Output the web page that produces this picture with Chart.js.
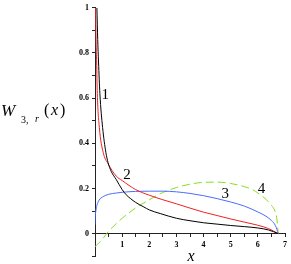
<!DOCTYPE html>
<html>
<head>
<meta charset="utf-8">
<script src="https://cdn.jsdelivr.net/npm/chart.js@4/dist/chart.umd.min.js"></script>
<style>
  html, body { margin: 0; padding: 0; background: #fff; }
  #wrap { width: 291px; height: 264px; position: relative; }
</style>
</head>
<body>
<div id="wrap"><canvas id="c"></canvas></div>
<script>
/* W_{3,r}(x) for r = 1..4 */
const x1 = [0.07, 0.1, 0.13, 0.18, 0.28, 0.4, 0.48, 0.6, 0.78, 1.0, 1.15, 1.3, 1.5, 1.8, 2.0, 2.4, 3.0, 3.5, 4.0, 4.5, 5.0, 5.5, 6.0, 6.4, 6.75];
const y1 = [1.0, 0.86, 0.76, 0.62, 0.47, 0.36, 0.315, 0.275, 0.24, 0.195, 0.172, 0.156, 0.138, 0.118, 0.105, 0.089, 0.068, 0.057, 0.048, 0.042, 0.036, 0.031, 0.025, 0.016, 0.0];

const x2 = [0.02, 0.04, 0.06, 0.085, 0.16, 0.3, 0.48, 0.78, 1.0, 1.5, 2.0, 2.5, 3.0, 3.5, 4.0, 4.5, 5.0, 5.5, 6.0, 6.4, 6.75];
const y2 = [1.0, 0.85, 0.76, 0.62, 0.47, 0.36, 0.31, 0.255, 0.235, 0.195, 0.17, 0.15, 0.132, 0.113, 0.095, 0.08, 0.065, 0.051, 0.037, 0.022, 0.0];

const x3 = [0.0, 0.01, 0.03, 0.07, 0.15, 0.3, 0.5, 0.8, 1.0, 1.5, 2.0, 2.5, 3.0, 3.5, 4.0, 4.5, 5.0, 5.5, 6.0, 6.3, 6.5, 6.65, 6.75];
const y3 = [0.04, 0.075, 0.1, 0.125, 0.148, 0.164, 0.174, 0.18, 0.183, 0.187, 0.188, 0.188, 0.185, 0.178, 0.168, 0.155, 0.14, 0.122, 0.096, 0.077, 0.058, 0.035, 0.0];

const x4 = [0.0, 0.25, 0.5, 1.0, 1.5, 2.0, 2.5, 3.0, 3.5, 4.0, 4.5, 5.0, 5.5, 5.8, 6.0, 6.3, 6.5, 6.6, 6.7, 6.75];
const y4 = [-0.058, -0.028, 0.01, 0.068, 0.114, 0.15, 0.182, 0.204, 0.219, 0.227, 0.228, 0.222, 0.208, 0.195, 0.18, 0.152, 0.125, 0.108, 0.065, 0.0];

const curveLabels = ["1", "2", "3", "4"];
const labelX = [0.38, 1.18, 4.8, 6.13];
const labelY = [0.62, 0.265, 0.178, 0.204];

const SERIF = "'Liberation Serif', 'DejaVu Serif', serif";
const pts = (xs, ys) => xs.map((x, i) => ({ x, y: ys[i] }));

const line = (data, color, dash) => ({
  data, borderColor: color, borderWidth: 1, borderDash: dash || [],
  pointRadius: 0, showLine: true, fill: false, cubicInterpolationMode: "monotone",
});

// axis titles and curve numbers
const texts = {
  id: "texts",
  afterDraw(chart) {
    const ctx = chart.ctx;
    const sx = chart.scales.x, sy = chart.scales.y;
    ctx.save();
    ctx.fillStyle = "#000";
    ctx.textBaseline = "alphabetic";
    ctx.textAlign = "center";
    ctx.font = "15px " + SERIF;
    curveLabels.forEach((t, i) => {
      ctx.fillText(t, sx.getPixelForValue(labelX[i]), sy.getPixelForValue(labelY[i]) + 5);
    });
    // x axis title, under the tick labels
    ctx.font = "italic 16px " + SERIF;
    ctx.fillText("x", 191, chart.height - 3);
    // y axis title W_{3,r}(x)
    ctx.textAlign = "left";
    ctx.font = "italic 17px " + SERIF;
    ctx.fillText("W", 1, 116);
    ctx.font = "10px " + SERIF;
    ctx.fillText("3,", 21, 123);
    ctx.font = "italic 10px " + SERIF;
    ctx.fillText("r", 35, 122);
    ctx.font = "16px " + SERIF;
    ctx.fillText("(", 44, 115);
    ctx.font = "italic 16px " + SERIF;
    ctx.fillText("x", 51, 115);
    ctx.font = "16px " + SERIF;
    ctx.fillText(")", 60, 115);
    ctx.restore();
  },
};

new Chart(document.getElementById("c"), {
  type: "scatter",
  data: {
    datasets: [
      line(pts(x1, y1), "#000000"),
      line(pts(x2, y2), "#f02020"),
      line(pts(x3, y3), "#4a6cff"),
      line(pts(x4, y4), "#88dd22", [8, 4]),
    ],
  },
  options: {
    responsive: true, maintainAspectRatio: false, animation: false,
    layout: { padding: { left: 0, right: 3, top: 0, bottom: 6 } },
    plugins: { legend: { display: false }, tooltip: { enabled: false } },
    scales: {
      x: {
        type: "linear", min: 0, max: 7, position: { y: 0 },
        grid: { drawOnChartArea: false, tickLength: 3, color: "#222" },
        border: { color: "#222", width: 1 },
        ticks: {
          stepSize: 0.5, padding: 4, color: "#000", maxRotation: 0, autoSkip: false,
          font: { family: SERIF, size: 8, weight: "bold" },
          callback: (v) => (Number.isInteger(v) && v > 0 ? String(v) : ""),
        },
      },
      y: {
        type: "linear", min: -0.1, max: 1, position: "left",
        afterFit: (s) => { s.width = 95; },
        grid: { drawOnChartArea: false, tickLength: 3, color: "#222" },
        border: { color: "#222", width: 1 },
        ticks: {
          stepSize: 0.1, padding: 3, color: "#000", autoSkip: false,
          font: { family: SERIF, size: 8, weight: "bold" },
          callback: (v) => {
            const k = Math.round(v * 10);
            if (k < 0 || k % 2) return "";
            return k === 10 ? "1" : k === 0 ? "0" : (k / 10).toFixed(1);
          },
        },
      },
    },
  },
  plugins: [texts],
});
</script>
</body>
</html>
